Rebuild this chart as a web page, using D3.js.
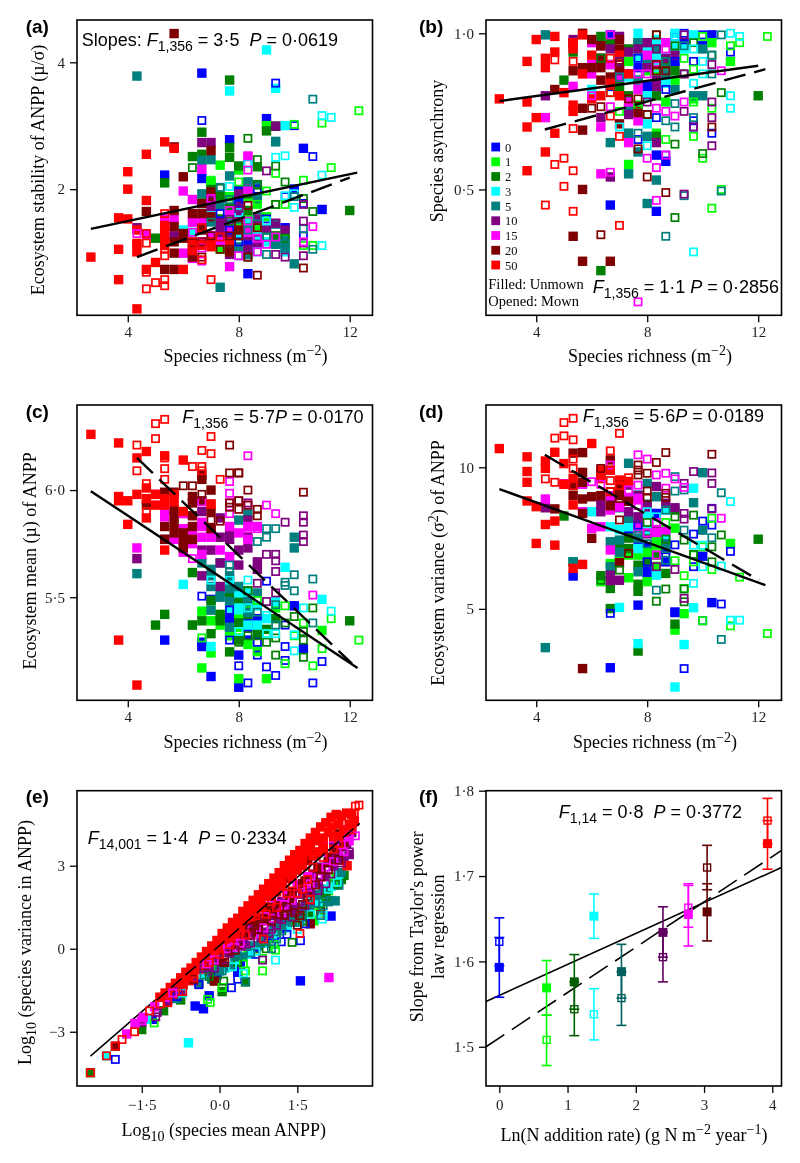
<!DOCTYPE html>
<html>
<head>
<meta charset="utf-8">
<script src="https://cdn.jsdelivr.net/npm/d3@7"></script>
<style>
body { margin: 0; background: #fff; }
svg { display: block; filter: blur(0.3px); }
text { white-space: pre; }
</style>
</head>
<body>
<svg id="chart" width="800" height="1163"></svg>
<script>
// N addition levels, one list per level in every table below
const levels = ['0', '1', '2', '3', '5', '10', '15', '20', '50'];
const levelColors = ['#0000ff', '#00ff00', '#007f00', '#00ffff', '#007f7f', '#7f007f', '#ff00ff', '#7f0000', '#ff0000'];
const darkColors = ['#0000ff', '#00ff00', '#005f00', '#00ffff', '#005f5f', '#5f005f', '#ff00ff', '#5f0000', '#ff0000'];

// (a) stability vs richness
const aFilled = [
  [[6.67,3.77],[7.67,2.62],[9,2.94],[5.33,2.16],[6.67,2.12],[10.33,2.5],[6.67,1.85],[8,1.99],[8,1.88],[9.67,1.62],[8.33,1.26],[11,1.79],[7.67,1.57],[10,2.0],[7,1.75],[8.33,1.45],[7.67,1.7],[8.33,1.5],[9.67,1.45]],
  [[7.33,2.28],[8,2.22],[7,2.08],[9,2.83],[8.33,1.92],[9.67,1.57],[9,1.72],[7,2.04],[8.67,1.85],[6.67,1.9],[8,1.65],[7.67,1.92],[7.33,1.44],[8.33,1.7],[7,1.95],[8.67,1.62],[9.67,1.5],[8,1.45]],
  [[7.67,3.63],[6.67,2.73],[9,2.75],[9.33,2.82],[7.67,2.51],[7.67,2.38],[6.33,2.39],[6.67,2.42],[5.33,2.07],[8,2.27],[8.67,2.26],[5,1.53],[12,1.78],[7.33,1.92],[7,2.0],[8.67,2.05],[8.33,1.95],[7.67,1.8],[8.33,1.78],[7.33,1.7],[9.33,1.55]],
  [[9,4.28],[7.67,3.42],[9.33,3.47],[9.67,2.83],[7,1.75],[8,1.78],[6,1.6],[6.33,1.58],[9.67,1.42],[8.33,1.66],[8.67,1.55],[7.67,1.6],[7.33,1.6],[8,1.55],[9,1.5]],
  [[4.33,3.71],[9.33,2.59],[6.67,2.34],[7,2.35],[7.67,2.15],[6.67,1.95],[7.33,1.17],[10,1.33],[8.33,2.08],[8,1.7],[8.67,2.05],[7.33,1.83],[9.67,1.51],[9.67,1.45],[8.33,1.62],[8,1.46],[7.67,1.49],[7.67,1.66],[8.67,1.9],[8.33,1.4],[7,1.68],[9.33,1.48],[9,1.6]],
  [[6.67,2.58],[7,2.58],[9.33,2.82],[4.33,1.62],[5.33,1.54],[7.33,1.67],[7.33,1.6],[8,1.95],[8,1.82],[8.33,1.55],[8.33,1.44],[7.67,1.4],[9,1.61],[9.33,1.66],[9.67,1.6],[7.67,1.55],[7,1.82],[8.67,1.7],[7.33,1.55],[8,1.72],[8.67,1.48],[6.67,1.62],[5.67,1.55]],
  [[8.33,2.39],[6.67,2.23],[6,1.98],[6.33,1.89],[7.67,1.31],[5.67,1.7],[4.67,1.56],[5.33,1.7],[6,1.41],[6.33,1.67],[6.33,1.37],[7.67,1.74],[8.33,1.58],[6.67,1.5],[7,1.55],[7.67,1.62],[6.67,1.7],[7.33,1.5],[8.33,2.0],[5.33,1.62]],
  [[5.67,4.68],[5.67,2.52],[4.67,1.77],[6,2.14],[5.67,1.78],[5.67,1.63],[5.67,1.5],[5.67,1.41],[5.33,1.29],[5.67,1.29],[6,1.57],[6.33,1.75],[6.67,1.75],[7,2.47],[7,1.97],[6.33,1.41],[6.33,1.46],[7,1.9],[6,1.53],[6.67,1.85],[7,1.72],[6.33,1.38],[6.67,1.6],[7.67,1.42],[8,1.6]],
  [[2.67,1.38],[3.67,1.71],[3.67,1.44],[3.67,1.22],[4,1.7],[4,2.2],[4,2.0],[4.33,1.42],[4.33,1.04],[4.67,2.42],[4.67,1.88],[4.67,1.29],[5,1.34],[5.33,2.59],[5.33,1.64],[5.33,1.6],[5.67,2.5],[6,1.29],[7,1.5],[6.33,1.5],[6.67,1.48],[5.33,1.53],[4.33,1.48],[5.33,1.47],[6.33,1.43],[7,1.46],[7.67,1.5],[4.33,1.6]]
];
const aOpen = [
  [[6.67,2.91],[9.33,3.57],[10,2.83],[10.67,2.39],[10,2.0],[9,1.7],[8,1.86],[10.33,1.55],[11,1.79],[7.67,1.6],[8.33,2.3],[10.33,1.85],[9.67,1.92],[8,1.5],[8.67,2.0],[7.33,1.75]],
  [[12.33,3.07],[11,2.87],[10,2.85],[11.33,2.25],[9.33,2.18],[10.33,2.1],[9,1.98],[8,2.08],[7,2.1],[9.67,1.84],[10.33,1.47],[10.67,1.47],[9.33,1.84],[8.67,1.84],[7.67,1.92],[8.33,1.68]],
  [[8.33,2.64],[9.33,2.82],[8.67,2.35],[9.33,2.27],[6.33,2.25],[9.67,2.08],[7.33,2.01],[8.67,2.05],[10.67,1.77],[9.33,1.84],[10.33,1.9],[9,1.54],[9.67,1.53],[8.33,1.38],[8,1.55],[7.67,1.68]],
  [[11,2.99],[11.33,2.96],[9.33,2.38],[9.67,2.4],[11,2.16],[7.67,2.03],[9.67,1.93],[10,1.81],[8,1.76],[8.33,2.3],[11,1.47],[9,1.68],[6.33,1.58],[8.67,1.42],[10,1.95]],
  [[10.67,3.27],[9.33,2.6],[8.33,2.08],[10,1.92],[7.33,2.02],[7.67,1.89],[10.33,1.61],[10.67,1.44],[9.67,1.49],[9,1.4],[8,1.39],[7,1.67],[8.67,1.72],[9,1.54],[9.33,1.65],[8.33,1.6]],
  [[9,2.21],[9.33,2.82],[7,1.88],[10.33,1.68],[9.33,1.66],[10.33,1.84],[10.33,1.49],[10.33,1.39],[9.33,1.4],[9.67,1.38],[8.67,1.52],[8,1.8],[7.67,1.7]],
  [[8.33,2.4],[8.33,2.22],[10.67,1.63],[9.33,1.54],[8.67,1.42],[8,1.39],[9,1.48],[4.33,1.57],[6.67,1.35],[7.67,1.78],[8.33,1.68],[10.33,1.5],[7,1.9],[6.33,1.58],[6.67,1.45],[8.67,1.53]],
  [[8.67,1.25],[10.33,1.3],[8.67,1.62],[8.33,1.83],[8.33,1.38],[6.33,1.49],[7.33,1.44],[8,1.65],[8,1.55],[7.67,1.55],[7.67,1.44],[6.67,1.38],[7,1.55],[6.67,1.5]],
  [[5.33,1.75],[4.67,1.57],[4.33,1.49],[4.67,1.49],[5.33,1.44],[5.33,1.39],[4.67,1.27],[4.67,1.16],[5,1.2],[5.33,1.22],[5.33,1.18],[7,1.22],[6.33,1.48],[6.67,1.62],[6.67,1.47],[7.33,1.54],[6.67,1.36]]
];

// (b) asynchrony vs richness
const bFilled = [
  [[6.67,.995],[10.33,.995],[8.33,.43],[6.67,.45],[8.33,.61],[8.67,.59],[7.33,.87],[6.67,.83],[8,.83],[10,.96],[7.67,.89],[9,.91],[7,.88],[7.33,.76],[8.33,.9],[9.33,.97]],
  [[11,.91],[10.33,.97],[7.33,.91],[8,.8],[7.67,.77],[7.33,.58],[7,.83],[8.33,.68],[9.67,.79],[8,.88],[6.67,.97],[9,.85],[7.67,.85],[8.33,.87],[8.67,.78],[7,.93],[9,.95]],
  [[6.33,.99],[5,.85],[5.33,.94],[12,.8],[6.33,.24],[6.67,.97],[7.67,.92],[8.33,.8],[8,.91],[8.33,.67],[9,.88],[7.33,.95],[7,.83],[6.33,.92],[7.67,.97],[8.33,.92],[7.33,.8],[8.67,.9],[6.67,.9]],
  [[7.67,1.0],[9,1.0],[9.67,.995],[7.67,.95],[8,.95],[6,.82],[8.67,.84],[8,.71],[9,.96],[7.33,.86],[8.33,.93],[7.67,.92],[8,.97],[8.33,.98],[7,.88],[8.67,.92],[8,.8],[9.33,.95]],
  [[4.33,.995],[7.67,.97],[6.67,.65],[7.33,.68],[7.33,.55],[8,.67],[8.33,.53],[8,.455],[7.67,.62],[9.67,.8],[10,.8],[10,.95],[8.33,.95],[7,.86],[8.67,.87],[7.67,.85],[8,.9],[9,.82],[7.33,.77]],
  [[4.33,.8],[5.33,.98],[6.67,.95],[7.33,.94],[6.33,.73],[7.33,.74],[8,.97],[8.33,.83],[8.33,.65],[6.67,.54],[9,.93],[7,.99],[8.33,.85],[7.67,.95],[8,.89],[7,.88],[8.67,.92],[6.33,.96]],
  [[4.33,.73],[5.33,.83],[6.33,.7],[6.33,.55],[6,.97],[6,.9],[6,.87],[7.33,.65],[7.67,.72],[6.67,.9],[8.67,.97],[7.67,.82],[5.67,.88],[7,.85],[8,.93],[7.33,.78],[5.33,.96],[8.33,.9]],
  [[4.67,.82],[5.67,1.0],[6,.98],[5.33,.88],[5.67,.89],[6,.89],[6.33,.85],[5.67,.76],[5.67,.69],[5.67,.5],[5.33,.35],[5.67,.27],[6.67,.27],[7,.98],[7,.95],[6.33,.92],[6.33,.89],[7,.71],[6.67,.86],[7,.89],[7.67,.75],[5.33,.97],[6.33,.96]],
  [[2.67,.79],[3.67,.91],[3.67,.78],[3.67,.7],[3.67,.56],[4,.98],[4,.73],[4.33,.92],[4.33,.89],[4.33,.62],[4.67,.99],[4.67,.94],[4.67,.68],[5,.81],[5.33,.97],[5.33,.77],[5.33,.75],[5.67,.995],[6,.79],[7,.8],[6.67,.84],[7.33,.87],[5.33,.95],[6,.93],[6.33,.8],[7,.93],[5.67,.87]]
];
const bOpen = [
  [[9,.99],[9.33,1.0],[10,.995],[11,.94],[9,.91],[9.67,.91],[7.67,.92],[8,.83],[8.67,.82],[8.33,.73],[9.67,.72],[10.33,.68],[7.67,.66],[8.67,.61],[9.67,.7]],
  [[12.33,.99],[11,.96],[11.33,.97],[10,.99],[9.33,.92],[9.67,.885],[10.33,.76],[9.67,.78],[9.67,.67],[8.67,.66],[7.33,.58],[10,.6],[10.67,.5],[10.33,.44],[7,.75],[7.67,.77]],
  [[8.33,.995],[9.67,.97],[10.33,.93],[9,.96],[7,.91],[6.33,.92],[9.33,.87],[10.67,.81],[9,.645],[10,.615],[9,.41],[6.67,.81],[7,.83],[8.67,.91],[8,.74]],
  [[11,1.0],[11.33,.99],[10,.91],[9.67,.95],[9.67,.84],[10,.87],[11,.8],[11,.76],[8,.64],[9.67,.3],[7,.7],[9,.99],[8.33,.89]],
  [[10.67,.995],[10.33,.93],[10.33,.87],[9.33,.96],[9,.775],[8.67,.72],[9,.7],[9.67,.73],[8.67,.35],[10.67,.495],[9.33,.48],[8.67,.91],[7,.86],[7.67,.68],[7.33,.68]],
  [[10.33,.9],[9.33,.995],[9.33,.87],[10.33,.78],[9.33,.75],[10.33,.73],[9.67,.7],[10.33,.64],[9.33,.485],[7,.91],[8,.78],[8.33,.95]],
  [[10.67,.88],[6.67,.995],[6,.8],[6.67,.765],[9.33,.78],[8.33,.76],[8.67,.75],[9,.735],[7.67,.72],[8.67,.61],[8,.6],[8.33,.57],[6.67,.555],[8.33,.465],[7.67,.14],[8.67,.95],[7.67,.87],[8,.87],[7.67,.83],[7,.9]],
  [[8.67,.49],[8,.54],[6.33,.355],[10.33,.7],[8,.74],[7.67,.745],[8.67,.88],[8.33,.9],[8.33,.88],[6,.76],[6.33,.765],[7.67,.79],[7.33,.79],[7.67,.63],[7,.9],[8.33,.995]],
  [[4.67,.915],[5.33,.91],[4.33,.45],[5.33,.43],[4.67,.58],[5,.6],[5.33,.56],[5,.51],[7,.385],[5.33,.695],[6.67,.92],[6.67,.735],[7,.67],[6.67,.81]]
];

// (c) mean vs richness
const cFilled = [
  [[5.33,5.3],[6.67,5.29],[6.67,5.27],[7,5.13],[8,5.08],[7,5.49],[8.33,5.38],[8,5.49],[10.33,5.26],[7.67,5.33],[10,5.46],[8,5.23],[8.33,5.36],[8,5.41],[8.33,5.3],[7.67,5.4],[8.67,5.4]],
  [[6.67,5.435],[7,5.39],[6.67,5.17],[7,5.24],[8,5.12],[9,5.12],[11,5.345],[8,5.36],[8,5.31],[7.33,5.37],[8.33,5.28],[8,5.41],[8.33,5.46],[7.67,5.32],[8.67,5.25],[9.33,5.45],[7,5.44]],
  [[6.33,5.615],[5.33,5.42],[5,5.37],[6.33,5.37],[6.67,5.39],[7,5.485],[7.33,5.39],[7.67,5.245],[8,5.48],[12,5.39],[8.33,5.53],[8.67,5.33],[9,5.35],[7.33,5.42],[8,5.3],[7.67,5.52],[8.33,5.42],[9.33,5.4],[8,5.38],[7,5.33]],
  [[6,5.56],[9.67,5.64],[11,5.49],[8.33,5.37],[7,5.27],[8,5.52],[7.67,5.58],[8.67,5.46],[9,5.4],[8.67,5.37],[8,5.45],[8.33,5.52],[7.67,5.45],[9.33,5.48]],
  [[4.33,5.61],[8,5.86],[10,5.78],[10,5.73],[7.33,5.525],[7.67,5.48],[7,5.63],[6.67,5.66],[7,5.44],[8.33,5.43],[7.67,5.36],[7.67,5.54],[8.33,5.89],[7,5.6],[7.33,5.5],[8,5.55],[8.33,5.48],[7.67,5.6],[7,5.55],[8.67,5.52]],
  [[4.33,5.68],[5.33,5.77],[6.67,5.6],[7,5.72],[7.33,5.66],[8,5.65],[7.67,5.8],[7.33,5.87],[8.33,5.86],[8.33,5.73],[8.67,5.665],[8.67,5.63],[7.33,5.78],[7.67,5.77],[6.67,5.9],[8,5.72],[7,5.82],[8.33,5.78],[6.67,5.72],[7.33,5.55]],
  [[4.33,5.73],[5,5.98],[5.33,5.875],[5.67,5.77],[6,5.89],[6.33,5.81],[6.67,5.83],[6.67,5.78],[6.67,5.7],[7.67,5.69],[6,5.71],[8.33,5.83],[8.67,5.83],[8.33,5.77],[5.33,5.9],[6.67,5.85],[7,5.78],[7.33,5.72],[8,5.8],[6.33,5.75],[6,5.82],[7.67,5.83]],
  [[5.33,5.99],[5.33,5.83],[5.67,5.91],[5.67,5.84],[5.67,5.99],[6,5.76],[6,5.73],[6.33,5.97],[6.33,5.88],[6.33,5.77],[6.67,6.05],[7,6.0],[7,5.9],[4.67,5.93],[5.33,5.77],[5.67,5.88],[6.67,6.07],[6.33,5.94],[6.67,5.95],[7,5.82],[6,5.8],[5.67,5.8],[6.33,5.83]],
  [[2.67,6.26],[3.67,6.22],[3.67,5.97],[3.67,5.95],[4,5.95],[4,5.84],[4.33,5.98],[4.33,6.15],[4.33,5.09],[3.67,5.3],[4.67,6.18],[4.67,6.01],[4.67,5.87],[5,5.93],[5.33,6.16],[5.33,5.96],[5.33,5.72],[6,6.14],[5.67,5.945],[7,5.935],[5.33,5.93],[5,5.98],[4.67,5.96],[6,5.9],[5.67,5.98]]
];
const cOpen = [
  [[6.67,5.505],[7.67,5.44],[9,5.575],[10,5.46],[9.67,5.37],[7.67,5.3],[8.67,5.29],[8.67,5.23],[9.67,5.27],[9.67,5.205],[8,5.18],[9,5.175],[9.33,5.135],[8.33,5.1],[10.67,5.1],[11,5.2]],
  [[6.67,5.31],[12.33,5.3],[11.33,5.4],[11,5.26],[10.67,5.18],[9.67,5.19],[8.67,5.245],[9.67,5.46],[10.33,5.38],[10,5.32],[8.67,5.485],[9,5.33]],
  [[8.33,5.53],[10.67,5.45],[10,5.41],[10.33,5.34],[10.33,5.3],[9.33,5.31],[9,5.29],[9.33,5.23],[10.33,5.22],[8.33,5.32],[8,5.29],[8.67,5.32],[9.67,5.38],[7.33,5.415],[6.33,5.37]],
  [[7,5.58],[8.33,5.58],[11.33,5.435],[10.33,5.45],[9,5.415],[10,5.25],[10,5.325],[9.33,5.33],[9,5.33],[7.67,5.58],[8,5.44],[8,5.34],[8.33,5.45]],
  [[10,5.605],[10.67,5.585],[10,5.53],[9.33,5.82],[9,5.82],[9,5.78],[8.67,5.76],[9.67,5.57],[9.67,5.555],[9.33,5.465],[8.67,5.43],[9.33,5.37],[10.67,5.38],[7.67,5.65],[7.67,5.62],[7.33,5.66]],
  [[9.67,5.85],[10.33,5.88],[10.33,5.85],[10.33,5.79],[10.33,5.76],[9,5.7],[9.33,5.7],[9.33,5.67],[9.33,5.62],[8.67,5.565],[9,5.48],[9.33,5.52],[7.33,5.66],[8,5.95],[8.33,5.94]],
  [[8.33,6.16],[7.67,6.04],[7.67,5.985],[7.67,5.89],[9,5.93],[9.33,5.89],[8.67,5.82],[8.33,5.82],[10.67,5.51],[6.33,5.68],[6.67,5.945],[8.33,5.93],[7.67,5.94]],
  [[7.67,6.21],[7.67,6.08],[8,6.08],[8.33,6.0],[10.33,5.99],[8,5.95],[8,5.91],[8.33,5.93],[8.67,5.91],[8.67,5.88],[7.67,5.94],[7.67,5.92],[7.33,5.855],[6.67,5.98],[6,6.02],[6.33,6.02],[7,5.86],[8,6.08]],
  [[5.33,6.33],[5,6.31],[5,6.24],[7,6.25],[4.33,6.21],[6.67,6.185],[7,6.17],[6.33,6.11],[6.67,6.11],[5.33,6.1],[4.33,6.09],[5.33,6.05],[7.33,6.05],[4.67,6.03],[5.33,5.93],[4.67,5.9],[7,5.935],[5.33,6.15],[6.67,6.09]]
];

// (d) variance vs richness
const dFilled = [
  [[5.33,6.16],[6.67,2.92],[7.67,5.13],[10.33,5.22],[7.33,7.78],[8,7.19],[8.33,8.37],[8,6.25],[10,6.86],[8.67,6.66],[9,4.89],[7.67,7.96],[7.67,7.4],[8,6.5],[8.67,7.1],[8.33,7.4]],
  [[9.33,4.83],[11,7.31],[9,4.25],[7,6.9],[7.33,6.1],[8,5.96],[8.33,7.55],[8.33,7.25],[9,7.85],[6.33,5.96],[6.67,6.6],[8,7.0],[8.67,7.3],[8.33,6.5],[7.33,6.9],[7.67,6.9]],
  [[5,8.28],[5.33,6.66],[6.33,6.17],[6.67,5.72],[6.67,5.01],[7.67,6.54],[7.67,5.87],[7.67,5.62],[7.67,3.51],[12,7.46],[9,4.46],[7.33,7.13],[8.67,6.25],[8,6.66],[9,8.49],[8,7.7],[8.33,6.9],[7,7.2],[8.67,7.5],[7.33,7.5]],
  [[9.67,9.26],[7,5.05],[7.67,3.77],[9.33,3.74],[9.67,5.04],[9,2.24],[6,8.43],[6.67,7.9],[7.67,7.13],[8,8.37],[8.33,6.19],[8.67,8.49],[7.33,7.9],[8,7.8],[8.67,7.6],[7,7.8]],
  [[4.33,3.63],[7.33,10.14],[10,9.81],[9.67,8.75],[10,7.78],[8,9.43],[7,8.57],[6.67,7.37],[7,7.43],[6.67,6.49],[7.67,6.31],[8.33,8.96],[7.67,9.02],[5.33,6.66],[7.33,8.2],[8,8.7],[8.67,7.3],[7.67,7.5],[7,7.0]],
  [[4.33,8.57],[6.67,6.19],[7,6.01],[6.33,8.43],[7.33,8.43],[7.67,8.25],[6.67,8.79],[8.67,8.73],[9,8.57],[8.33,9.32],[7.33,9.37],[6.67,6.0],[7,8.6],[7.67,9.0],[8,8.6],[8.33,7.8],[6.33,8.7]],
  [[4.33,8.88],[5,9.42],[6,7.84],[6.33,7.9],[6.67,7.08],[5.67,8.43],[6.67,8.49],[7.67,8.9],[8.67,7.78],[7,8.6],[7.33,8.9],[8.33,7.7],[6.67,9.0],[5.67,9.4],[7.67,7.85]],
  [[5.67,2.89],[5.33,10.5],[5.67,10.52],[5.67,9.82],[5.67,9.47],[5.67,8.88],[6,8.96],[6,7.49],[5.67,8.37],[4.67,8.53],[6.33,9.61],[6.67,8.64],[7,6.63],[6.67,10.26],[7,9.3],[6.33,9.85],[6.33,9.0],[7,9.0],[7.33,8.8],[5.33,9.0],[5.33,9.35]],
  [[2.67,10.66],[3.67,10.37],[3.67,9.85],[3.67,9.47],[3.67,8.81],[4,8.61],[4,7.31],[4.33,10.22],[4.33,9.96],[4.33,7.98],[4.67,10.53],[4.67,8.1],[4.67,7.25],[5,10.13],[5.33,9.61],[5.33,8.67],[5.33,6.43],[5.67,6.57],[6,10.84],[6.33,9.9],[7,9.55],[6.67,9.9],[6.33,9.6],[7.33,9.5],[5,9.4]]
];
const dOpen = [
  [[6.67,4.84],[9,4.86],[10.67,5.17],[9.33,2.89],[10,4.58],[9.67,6.49],[9.67,7.64],[10.33,7.96],[10,8.1],[11,7.03],[9,7.26],[8,6.66],[10.33,8.55],[7.67,7.96],[8.67,6.9]],
  [[12.33,4.13],[11.33,6.12],[11,4.4],[10,4.58],[9.33,6.17],[9.33,5.72],[9.67,6.66],[9,6.7],[10.33,6.39],[10,7.19],[8.67,8.05],[10.33,8.2],[9.67,6.9]],
  [[8.67,5.7],[8.33,5.27],[9.33,5.25],[9.33,5.7],[10.67,7.61],[9.67,8.31],[9,8.25],[8.67,7.46],[9.33,7.43],[9.67,6.92],[10.33,7.19],[10.33,6.66],[6.33,6.01],[7.33,6.96],[7,6.37],[8,8.05]],
  [[11,4.6],[11.33,4.6],[9.67,5.9],[10,6.49],[10.67,6.51],[11,8.79],[10,7.25],[9.67,7.25],[8,8.43],[8.33,8.25]],
  [[10.67,3.92],[8.33,5.66],[9.33,7.78],[10.33,7.51],[10.67,9.1],[9,9.16],[9.33,9.2],[9,9.67],[8.67,8.49],[8.67,7.13],[8.67,6.72],[7.67,7.6],[8,7.3]],
  [[9.67,9.85],[10.33,9.8],[10.33,9.43],[9.33,9.43],[9.33,8.37],[9.33,8.17],[10.33,8.53],[9,6.39],[9.33,5.37],[8.33,9.32],[7.67,8.2],[8,7.64],[8.33,6.49]],
  [[7.67,10.44],[8,10.29],[8.33,9.73],[8.67,9.79],[9,9.59],[8.67,9.26],[9.33,9.29],[10.67,8.2],[8.33,8.05],[8,7.69],[8.33,6.9],[7.67,9.37],[7.67,8.84],[7.67,8.65],[7.33,9.2],[6.33,9.4],[6.67,10.08],[6,9.49]],
  [[8.67,10.52],[10.33,10.46],[8.33,10.17],[7.67,10.08],[7.67,9.9],[8,9.79],[8,9.16],[8,8.93],[8.67,9.08],[8.67,8.94],[7,9.37],[7,8.9],[7,8.14],[6.33,9.96],[6.67,9.14],[7.33,6.96],[7.67,9.73]],
  [[5.33,11.73],[5,11.58],[7,11.2],[4.67,11.03],[5,11.11],[5.33,10.97],[6.67,10.58],[5.33,10.29],[5.33,9.96],[6.67,9.9],[6.67,9.53],[4.33,9.59],[4.67,9.47],[5.33,9.35],[7.33,9.63],[7,9.35],[6.67,9.14]]
];

// (e) Taylor's power law, log10 variance vs log10 mean
const eFilled = [
  [[-.47,-2.07],[-.31,-2.17],[-.2,-1.7],[1.56,-1.16],[2.15,1.18],[-.05,-.95],[.4,-.6],[.9,.4],[-1.3,-2.55],[.35,-.85]],
  [[1.82,1.01],[.95,.55],[1.4,1.25],[2.1,2.1],[2.25,2.6],[.55,-.1],[1.15,.9],[1.7,1.55],[-.1,-.6]],
  [[-2.49,-4.48],[-1.5,-2.92],[-1.08,-2.24],[.05,-1.55],[.5,-1.2],[2.2,2.3],[2.4,2.65],[1.1,.6],[1.6,1.2],[-.4,-1.25],[-.75,-1.85],[1.95,1.6],[.7,0],[-.2,-.8],[1.3,.9],[1.75,1.3],[.9,.3],[.3,-.4],[2.05,2.0],[2.35,2.5],[1.45,1.0]],
  [[-2.18,-3.87],[-.6,-3.4],[.3,-.4],[.85,.2],[1.3,.75],[1.9,1.7],[-.3,-.9],[-1.4,-2.55],[2.3,2.7],[1.05,.45],[1.55,1.05],[.6,-.2],[.1,-.7],[2.15,2.25],[1.75,1.75]],
  [[2.23,1.73],[2.1,1.7],[2.3,2.3],[1.75,1.5],[1.2,.75],[.75,.1],[.2,-.65],[-.15,-1.1],[-.85,-1.8],[2,2.15],[1.5,1.1],[.45,-.3],[1.05,.8],[1.4,1.2],[1.65,1.6],[.9,.5],[.6,.1],[.3,-.3],[0,-.8],[-.4,-1.25],[1.9,1.95],[2.35,2.75],[1.25,1.1]],
  [[-1.5,-2.65],[-1,-1.9],[-.5,-1.15],[-.1,-.3],[.3,.3],[.6,.75],[.9,1.2],[1.2,1.7],[1.5,2.2],[1.8,2.7],[2.1,3.1],[2.3,3.4],[2.45,3.8],[2.55,4.2],[.1,-.05],[.8,1],[1.4,1.9],[1.95,2.95],[2.2,3.7],[-.3,-.7],[-.75,-1.5],[1.1,1.4],[.45,.35],[.75,.85],[1.05,1.2],[1.3,1.5],[1.6,2.0],[1.9,2.4],[2.2,3.0],[2.4,3.2],[.2,.05],[0,-.4],[-.2,-.8],[.5,.1],[.85,.6],[1.15,1.1],[1.45,1.5],[1.75,2.1],[2.05,2.6],[2.35,3.7],[2.5,3.4]],
  [[2.11,-1.04],[-1.79,-3.08],[-1.63,-2.7],[-1.47,-2.48],[-1.25,-2.1],[-.8,-1.4],[-.4,-.7],[0,.05],[.4,.75],[.8,1.5],[1.2,2.2],[1.6,3],[2,3.7],[2.4,4.3],[2.6,4.6],[.2,.35],[.6,1.1],[1,1.85],[1.4,2.6],[1.8,3.35],[2.2,4],[-.6,-1.1],[-1.05,-1.75],[.3,.45],[.7,1.0],[1.1,1.6],[1.5,2.3],[1.9,2.9],[2.3,3.6],[.1,0],[.5,.65],[.9,1.15],[1.3,1.95],[1.7,2.6],[2.1,3.3],[2.5,3.9]],
  [[-2.01,-3.52],[-.1,-1.17],[1.95,1.3],[1.75,.9],[.45,.5],[.7,1],[.95,1.5],[1.2,2.35],[1.45,2.85],[1.7,3.2],[2,3.6],[2.3,4.15],[1.3,2.55],[.55,1.05],[.25,.4],[0,-.05],[-.3,-.6],[-.6,-1.05],[.8,1.7],[1.55,3.05],[.05,-.5],[1.85,3.4],[2.25,3.5],[1,2.05],[.45,.85],[.35,.15],[.65,.6],[.9,1.05],[1.15,1.55],[1.4,2.05],[1.65,2.45],[1.9,2.9],[2.15,3.3],[2.4,3.7],[.2,-.15],[.75,.75],[1.05,1.3],[1.35,1.8],[1.6,2.35],[2.1,3.15]],
  [[-1.15,-1.75],[-1.05,-1.6],[-.95,-1.4],[-.85,-1.25],[-.75,-1.05],[-.65,-.85],[-.55,-.7],[-.45,-.5],[-.35,-.3],[-.25,-.1],[-.15,.1],[-.05,.3],[.05,.55],[.15,.75],[.25,.95],[.35,1.1],[.45,1.35],[.55,1.55],[.65,1.75],[.75,1.95],[.85,2.15],[.95,2.35],[1.05,2.55],[1.15,2.75],[1.25,3],[1.35,3.2],[1.45,3.4],[1.55,3.55],[1.65,3.8],[1.75,4],[1.85,4.2],[1.95,4.4],[2.05,4.55],[2.15,4.75],[2.25,4.85],[2.35,4.8],[2.45,4.9],[2.55,4.85],
   [-.9,-1.65],[-.7,-1.3],[-.5,-.9],[-.3,-.5],[-.1,-.15],[.1,.3],[.3,.7],[.5,1.1],[.7,1.5],[.9,1.9],[1.1,2.3],[1.3,2.7],[1.5,3.1],[1.7,3.5],[1.9,3.9],[2.1,4.2],[2.3,4.5],[2.5,4.5],[2.46,3],[2.6,4.6],[.4,.85],[.8,1.65],[1.2,2.45],[1.6,3.3],[2,4],
   [-.8,-1.55],[-.6,-1.15],[-.4,-.75],[-.2,-.4],[0,0],[.2,.4],[.4,.75],[.6,1.15],[.8,1.5],[1,1.9],[1.2,2.25],[1.4,2.65],[1.6,3],[1.8,3.35],[2,3.65],[2.2,4.05],[2.4,4.25],[.15,.6],[.55,1.35],[.95,2.15],[1.35,2.95],[1.75,3.75],[2.15,4.4],[2.55,4.3],[.3,.45],[.7,1.3],[1.1,2.05],[1.5,2.85],[1.9,3.5],[2.3,4.05]]
];
const eOpen = [
  [[-2.01,-4],[.23,-1.41],[.35,-1.1],[1.56,.29],[1.19,.25],[1.3,.52],[-.82,-1.73],[.7,-.2],[-.4,-1.3],[1,.2],[1.65,.9]],
  [[-.23,-1.83],[-.18,-1.94],[.05,-1.4],[.83,-.8],[.83,-.35],[1.08,-.05],[.5,-.8],[-1.26,-2.68],[.46,-.55],[1.05,.15],[1.5,.95],[2.2,2.4],[1.9,1.3]],
  [[1.4,.23],[.08,-1.17],[1.6,1],[2.27,2.33],[.9,0],[.35,-.5],[-.2,-1],[2.05,1.9],[1.65,1.35]],
  [[1.08,-.41],[.46,-.89],[1.98,1.07],[2,1.2],[2.27,2.4],[2.1,2.15],[1.5,.7],[.7,-.1],[-.71,-1.6],[1.75,1.25],[.25,-.65]],
  [[.5,-1.19],[1,0],[1.1,.35],[1.55,.95],[1.95,1.2],[2.15,1.75],[1.4,.95],[.6,-.15],[-.3,-.95],[2,1.55],[.8,.2],[1.2,.65],[1.6,1.25],[1.85,1.65],[.35,-.25],[.05,-.8],[1.3,1.0],[.95,.35]],
  [[.83,-.41],[-1.23,-2.46],[-1.2,-2.3],[.6,.2],[.8,.4],[1.2,1.05],[1.5,1.35],[1.75,1.75],[2.05,2.35],[2.35,3.1],[2.5,3.5],[.2,-.15],[-.3,-.7],[-.8,-1.55],[1,.7],[1.35,1.35],[1.9,2.1],[2.25,3.3],[.4,.1],[.7,.5],[1.1,.85],[1.4,1.15],[1.65,1.55],[.1,-.4],[-.1,-.7],[.95,.55],[1.25,1.25],[1.55,1.7],[2.15,2.7]],
  [[2.62,4.08],[-1.5,-2.6],[.5,.5],[.85,.75],[1.25,1.6],[1.7,2.2],[2.05,2.95],[2.4,3.5],[-.9,-1.6],[-.1,-.4],[.3,.05],[1.5,2],[2.5,4.1],[1,1.1],[1.9,2.55],[.15,0],[.65,.5],[1.2,1.3],[1.4,1.75],[1.75,2.35],[2.2,3.15],[2.35,3.75],[-.25,-.55],[.4,.2]],
  [[1.55,1.2],[1.5,.85],[1,1],[.6,.5],[1.3,1.5],[1.7,1.9],[2.1,2.85],[.85,1.1],[.1,-.5],[-.5,-1.1],[1.15,1.25],[1.85,2.3],[.3,-.05],[.75,.7],[1.45,1.3],[1.6,1.6],[1.95,2.6],[2.3,3.2],[1.25,1.2]],
  [[2.69,5.19],[2.62,5.15],[-2.18,-3.87],[-2.49,-4.48],[-2.01,-3.52],[-1.88,-3.28],[-1.64,-3],[-1,-1.95],[-.71,-1.55],[1.55,.55],[1.75,1.78],[1.5,2],[-1.35,-2.25],[-1.15,-2],[-.5,-1.05],[0,-.2],[.5,.5],[.85,.35],[1.1,1.5],[1.6,2.15],[1.3,2],[.7,1.2],[2,3.3],[2.2,3.6],[2.4,4.2],[2.55,4.5],[2.6,4.9],[.4,.6],[.2,.15],[.9,1.25],[1.8,2.95],[1.4,2.35],[1,1.7],[-.2,-.5],[1.7,2.5],[2.3,3.8],[2.5,4.3]]
];

// (f) Taylor slope per N level
const fRates = [0, .693, 1.099, 1.386, 1.79, 2.398, 2.77, 3.045, 3.93];
const fFilledMean = [1.593, 1.569, 1.576, 1.653, 1.588, 1.634, 1.655, 1.658, 1.738];
const fFilledLow = [1.558, 1.537, 1.544, 1.627, 1.557, 1.605, 1.618, 1.624, 1.708];
const fFilledHigh = [1.628, 1.601, 1.608, 1.679, 1.62, 1.664, 1.689, 1.691, 1.765];
const fOpenMean = [1.623, 1.508, 1.544, 1.538, 1.557, 1.605, 1.663, 1.71, 1.765];
const fOpenLow = [1.595, 1.478, 1.513, 1.508, 1.525, 1.576, 1.64, 1.684, 1.738];
const fOpenHigh = [1.651, 1.537, 1.576, 1.568, 1.588, 1.634, 1.691, 1.736, 1.791];

// regression lines, [start, end] in data units
const solidLines = {
  a: [[2.67,1.61],[12.27,2.19]], b: [[2.67,.783],[12,.896]], c: [[2.67,5.995],[12.28,5.17]],
  d: [[2.67,9.23],[12.26,5.84]], e: [[-2.49,-3.88],[2.7,4.53]], f: [[-.195,1.553],[4.135,1.71]]
};
const dashedLines = {
  a: [[4.33,1.38],[12,2.13]], b: [[4.31,.692],[12.26,.885]], c: [[4.33,6.15],[12.08,5.19]],
  d: [[4.31,10.44],[12.03,6.01]], e: [[-1.21,-1.86],[2.7,4.53]], f: [[-.195,1.5],[4.135,1.73]]
};

const serif = '"Liberation Serif", "Times New Roman", serif';
const sans = '"Liberation Sans", Arial, sans-serif';
const svg = d3.select('#chart');

const dotFmt = f => d => f(d).replace('.', '·').replace('-', '−');

// text with italic / sub / sup runs
function richText(g, x, y, parts, o) {
    let t = g.append('text')
        .attr('x', x).attr('y', y)
        .attr('font-family', o.family)
        .attr('font-size', o.size)
        .attr('text-anchor', o.anchor || 'start')
        .attr('fill', '#000');
    if (o.rotate) t.attr('transform', 'rotate(-90 ' + x + ' ' + y + ')');
    let shift = 0;
    parts.forEach(p => {
        let str = typeof p === 'string' ? p : p[0];
        let kind = typeof p === 'string' ? '' : p[1];
        let target = kind === 'sub' ? o.size * 0.27 : kind === 'sup' ? -o.size * 0.36 : 0;
        let s = t.append('tspan').text(str).attr('dy', target - shift);
        shift = target;
        if (kind === 'i') s.attr('font-style', 'italic');
        if (kind === 'sub' || kind === 'sup') s.attr('font-size', o.size * 0.78);
    });
    return t;
}

function makePanel(cfg) {
    let g = svg.append('g');
    let x = d3.scaleLinear().domain(cfg.xDomain).range([cfg.left, cfg.left + 295.5]);
    let y = (cfg.yLog ? d3.scaleLog() : d3.scaleLinear()).domain(cfg.yDomain).range([cfg.top + 295.3, cfg.top]);

    let xAxis = d3.axisBottom(x).tickValues(cfg.xTicks).tickSize(7).tickPadding(cfg.xPad || 4);
    let yAxis = d3.axisLeft(y).tickValues(cfg.yTicks).tickSize(7).tickPadding(5);
    xAxis.tickFormat(cfg.xFmt || (d => String(d)));
    yAxis.tickFormat(cfg.yFmt || (d => String(d)));

    [[xAxis, 'translate(0,' + (cfg.top + 295.3) + ')'], [yAxis, 'translate(' + cfg.left + ',0)']].forEach(a => {
        let ag = g.append('g').attr('transform', a[1]).call(a[0]);
        ag.select('.domain').remove();
        ag.selectAll('.tick line').attr('stroke', '#000').attr('stroke-width', 1.3);
        ag.selectAll('text').attr('font-family', serif).attr('font-size', 15).attr('fill', '#222');
    });
    return { g: g, x: x, y: y };
}

function drawSquares(p, filled, open) {
    filled.forEach((pts, i) => {
        p.g.append('g').selectAll('rect').data(pts).enter().append('rect')
            .attr('x', d => p.x(d[0]) - 4.7)
            .attr('y', d => p.y(d[1]) - 4.7)
            .attr('width', 9.4).attr('height', 9.4)
            .attr('fill', levelColors[i]);
    });
    open.forEach((pts, i) => {
        p.g.append('g').selectAll('rect').data(pts).enter().append('rect')
            .attr('x', d => p.x(d[0]) - 3.6)
            .attr('y', d => p.y(d[1]) - 3.6)
            .attr('width', 7.2).attr('height', 7.2)
            .attr('fill', 'none')
            .attr('stroke', levelColors[i]).attr('stroke-width', 1.7);
    });
}

function drawLine(p, pts, width, dash) {
    let line = d3.line().x(d => p.x(d[0])).y(d => p.y(d[1]));
    p.g.append('path').attr('d', line(pts))
        .attr('fill', 'none').attr('stroke', '#000').attr('stroke-width', width)
        .attr('stroke-dasharray', dash || null);
}

function frame(p, cfg) {
    p.g.append('rect').attr('x', cfg.left).attr('y', cfg.top).attr('width', 295.5).attr('height', 295.3)
        .attr('fill', 'none').attr('stroke', '#000').attr('stroke-width', 1.6);
}

const richnessTicks = [4, 8, 12];
const xTitleRichness = ['Species richness (m', ['−2', 'sup'], ')'];

const panelA = { left: 77, top: 20, xDomain: [2.17, 12.82], xTicks: richnessTicks, yLog: true, yDomain: [1.004, 5.04], yTicks: [2, 4] };
const panelB = { left: 486, top: 20, xDomain: [2.19, 12.84], xTicks: richnessTicks, yDomain: [.097, 1.0426], yTicks: [.5, 1], yFmt: dotFmt(d3.format('.1f')) };
const panelC = { left: 77, top: 405, xDomain: [2.17, 12.82], xTicks: richnessTicks, yDomain: [5.019, 6.397], yTicks: [5.5, 6], yFmt: dotFmt(d3.format('.1f')) };
const panelD = { left: 486, top: 405, xDomain: [2.19, 12.84], xTicks: richnessTicks, yDomain: [1.77, 12.2], yTicks: [5, 10] };
const panelE = { left: 77, top: 790.7, xDomain: [-2.749, 2.95], xTicks: [-1.5, 0, 1.5], xFmt: dotFmt(d3.format('.1f')), xPad: 6, yDomain: [-4.96, 5.71], yTicks: [-3, 0, 3], yFmt: d => String(d).replace('-', '−') };
const panelF = { left: 486, top: 790.7, xDomain: [-.195, 4.135], xTicks: [0, 1, 2, 3, 4], xPad: 6, yDomain: [1.454, 1.8], yTicks: [1.5, 1.6, 1.7, 1.8], yFmt: dotFmt(d3.format('.1f')) };

[[panelA, aFilled, aOpen, 'a'], [panelB, bFilled, bOpen, 'b'], [panelC, cFilled, cOpen, 'c'], [panelD, dFilled, dOpen, 'd']].forEach(r => {
    let p = makePanel(r[0]);
    drawSquares(p, r[1], r[2]);
    drawLine(p, solidLines[r[3]], 2.4);
    drawLine(p, dashedLines[r[3]], 2.4, '22 9');
    frame(p, r[0]);
});

// in (e) the solid line sits under the squares, only the dashes show through the band
const pe = makePanel(panelE);
drawLine(pe, solidLines.e, 1.6);
drawSquares(pe, eFilled, eOpen);
drawLine(pe, dashedLines.e, 1.6, '14 5');
frame(pe, panelE);

const pf = makePanel(panelF);
drawLine(pf, solidLines.f, 1.6);
drawLine(pf, dashedLines.f, 1.6, '22 9');
fRates.forEach((r, i) => {
    let color = darkColors[i];
    [[fFilledLow, fFilledHigh], [fOpenLow, fOpenHigh]].forEach(b => {
        let bar = pf.g.append('g').attr('stroke', color).attr('stroke-width', 1.6);
        bar.append('line').attr('x1', pf.x(r)).attr('x2', pf.x(r)).attr('y1', pf.y(b[0][i])).attr('y2', pf.y(b[1][i]));
        [b[0][i], b[1][i]].forEach(v => {
            bar.append('line').attr('x1', pf.x(r) - 5).attr('x2', pf.x(r) + 5).attr('y1', pf.y(v)).attr('y2', pf.y(v));
        });
    });
    pf.g.append('rect').attr('x', pf.x(r) - 4.5).attr('y', pf.y(fFilledMean[i]) - 4.5)
        .attr('width', 9).attr('height', 9).attr('fill', color);
    pf.g.append('rect').attr('x', pf.x(r) - 3.5).attr('y', pf.y(fOpenMean[i]) - 3.5)
        .attr('width', 7).attr('height', 7).attr('fill', 'none')
        .attr('stroke', color).attr('stroke-width', 1.4);
});
frame(pf, panelF);

// legend in (b)
const overlay = svg.append('g');
levels.forEach((lev, i) => {
    let ly = d3.scaleLinear().domain([0, 8]).range([147, 265])(i);
    overlay.append('rect').attr('x', 491.3).attr('y', ly - 4.4).attr('width', 8.8).attr('height', 8.8).attr('fill', levelColors[i]);
    overlay.append('text').text(lev).attr('x', 505).attr('y', ly + 4.5)
        .attr('font-family', serif).attr('font-size', 12.5).attr('fill', '#111');
});
richText(overlay, 488.3, 289.3, ['Filled: Unmown'], { family: serif, size: 14.5 });
richText(overlay, 488.3, 306, ['Opened: Mown'], { family: serif, size: 14.5 });

// panel letters
[['(a)', 25.7, 33], ['(b)', 419, 33], ['(c)', 25.7, 418], ['(d)', 419, 418], ['(e)', 25.7, 802.7], ['(f)', 419, 802.7]].forEach(l => {
    overlay.append('text').text(l[0]).attr('x', l[1]).attr('y', l[2])
        .attr('font-family', sans).attr('font-weight', 'bold').attr('font-size', 19).attr('fill', '#000');
});

// statistics
const stat = { family: sans, size: 18 };
richText(overlay, 81.7, 45.7, ['Slopes: ', ['F', 'i'], ['1,356', 'sub'], ' = 3·5  ', ['P', 'i'], ' = 0·0619'], stat);
richText(overlay, 592.7, 292.7, [['F', 'i'], ['1,356', 'sub'], ' = 1·1 ', ['P', 'i'], ' = 0·2856'], stat);
richText(overlay, 182.3, 423.3, [['F', 'i'], ['1,356', 'sub'], ' = 5·7', ['P', 'i'], ' = 0·0170'], stat);
richText(overlay, 582.7, 421.7, [['F', 'i'], ['1,356', 'sub'], ' = 5·6', ['P', 'i'], ' = 0·0189'], stat);
richText(overlay, 87.7, 844, [['F', 'i'], ['14,001', 'sub'], ' = 1·4  ', ['P', 'i'], ' = 0·2334'], stat);
richText(overlay, 558.7, 818, [['F', 'i'], ['1,14', 'sub'], ' = 0·8  ', ['P', 'i'], ' = 0·3772'], stat);

// axis titles
const title = { family: serif, size: 18, anchor: 'middle' };
const vtitle = { family: serif, size: 18, anchor: 'middle', rotate: true };
richText(overlay, 245.5, 361.7, xTitleRichness, title);
richText(overlay, 650, 361.7, xTitleRichness, title);
richText(overlay, 245.5, 748, xTitleRichness, title);
richText(overlay, 655, 748, xTitleRichness, title);
richText(overlay, 223.7, 1135.7, ['Log', ['10', 'sub'], ' (species mean ANPP)'], title);
richText(overlay, 634, 1140.7, ['Ln(N addition rate) (g N m', ['−2', 'sup'], ' year', ['−1', 'sup'], ')'], title);

richText(overlay, 44, 170, ['Ecosystem stability of ANPP (µ/σ)'], vtitle);
richText(overlay, 442.7, 151, ['Species asynchrony'], vtitle);
richText(overlay, 36, 560.8, ['Ecosystem mean (µ) of ANPP'], vtitle);
richText(overlay, 444, 563, ['Ecosystem variance (σ', ['2', 'sup'], ') of ANPP'], vtitle);
richText(overlay, 30.7, 942.5, ['Log', ['10', 'sub'], ' (species variance in ANPP)'], vtitle);
richText(overlay, 422.7, 926.7, ["Slope from Taylor's power"], vtitle);
richText(overlay, 444, 926.7, ['law regression'], vtitle);
</script>
</body>
</html>
